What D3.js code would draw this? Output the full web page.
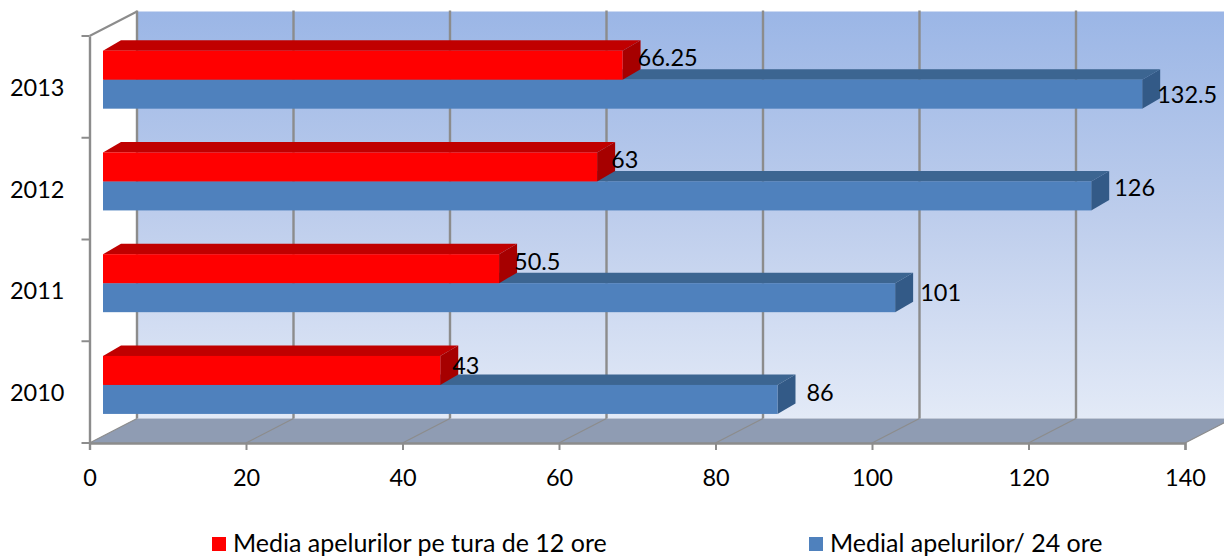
<!DOCTYPE html>
<html><head><meta charset="utf-8">
<script src="https://cdn.jsdelivr.net/npm/d3@7"></script>
<style>
html,body{margin:0;padding:0;background:#fff;overflow:hidden}
text{font-family:Lato,"Open Sans",sans-serif;fill:#000}
</style></head><body>
<svg id="c" width="1224" height="557"></svg>
<script>
const categories = ["2010","2011","2012","2013"];
const seriesNames = ["Media apelurilor pe tura de 12 ore","Medial apelurilor/ 24 ore"];
const seriesRed = [43,50.5,63,66.25];
const seriesBlue = [86,101,126,132.5];
const xTicks = [0,20,40,60,80,100,120,140];
const redColors = {front:"#ff0000",top:"#c00000",side:"#a60000"};
const blueColors = {front:"#4f81bd",top:"#3c6591",side:"#335a87"};
const redNudge = {"2010":[-2,9],"2011":[1,7],"2012":[0,7],"2013":[1,6]};
const blueNudge = {"2010":[14,-7],"2011":[10,-6],"2012":[8,-9],"2013":[0,0]};

const W=1224,H=557, grey="#8c8c8c", fs=23.5, legendFs=25;
const svg=d3.select("#c");
const x=d3.scaleLinear().domain([0,140]).range([89.5,1185]);
const xBar=d3.scaleLinear().domain([0,140]).range([103,1201]);
const y=d3.scaleBand().domain(categories).range([443,36]);
const inner=d3.scaleBand().domain(["red","blue"]).range([-36.2,21.8]);
const wall={dx:47.5,dy:-24.5}, bar={dx:18,dy:-10.5};

const defs=svg.append("defs");
const g=defs.append("linearGradient").attr("id","wallG").attr("x1",0).attr("x2",0).attr("y1",0).attr("y2",1);
g.append("stop").attr("offset",0).attr("stop-color","#9bb6e6");
g.append("stop").attr("offset",0.5).attr("stop-color","#bdcdec");
g.append("stop").attr("offset",1).attr("stop-color","#e3eaf7");

const poly=(a)=>a.map(p=>p.join(",")).join(" ");
svg.append("rect").attr("x",x(0)+wall.dx).attr("y",y.range()[1]+wall.dy)
  .attr("width",W-x(0)-wall.dx).attr("height",y.range()[0]-y.range()[1]).attr("fill","url(#wallG)");
svg.append("polygon").attr("fill","#8f9cb3").attr("points",poly([
  [x(0),443],[x(140),443],[x(140)+wall.dx,443+wall.dy],[x(0)+wall.dx,443+wall.dy]]));

const grid=svg.append("g").attr("fill","none").attr("stroke",grey);
xTicks.forEach(t=>{
  grid.append("line").attr("x1",x(t)+wall.dx).attr("x2",x(t)+wall.dx)
    .attr("y1",36+wall.dy-1).attr("y2",443+wall.dy).attr("stroke-width",2.4);
  grid.append("line").attr("x1",x(t)).attr("y1",443).attr("x2",x(t)+wall.dx).attr("y2",443+wall.dy).attr("stroke-width",1.2);
});
grid.append("line").attr("x1",x(0)).attr("y1",36).attr("x2",x(0)+wall.dx).attr("y2",36+wall.dy).attr("stroke-width",2);

const ax=svg.append("g").attr("transform","translate(0,443)")
  .call(d3.axisBottom(x).tickValues(xTicks).tickSize(7).tickPadding(19).tickFormat(d3.format("d")));
ax.select(".domain").attr("stroke",grey).attr("stroke-width",2.4);
ax.selectAll("line").attr("stroke",grey).attr("stroke-width",2);
ax.selectAll("text").style("font-size",fs+"px").attr("font-family",null).attr("fill","#000");

const ay=svg.append("g").attr("transform",`translate(${x(0)},1.5)`)
  .call(d3.axisLeft(y).tickSize(0).tickPadding(25));
ay.select(".domain").attr("transform","translate(0,-1.5)").attr("stroke",grey).attr("stroke-width",2.4);
ay.selectAll("text").style("font-size",fs+"px").attr("font-family",null).attr("fill","#000");
const yEdges=[...categories.map(c=>y(c)+y.bandwidth()),36];
svg.append("g").selectAll("line").data(yEdges).join("line")
  .attr("x1",x(0)-8).attr("x2",x(0)).attr("y1",d=>d).attr("y2",d=>d)
  .attr("stroke",grey).attr("stroke-width",2);

function bar3d(parent,v,cat,key,col){
  const x0=xBar(0),x1=xBar(v),y0=y(cat)+y.bandwidth()/2+inner(key),h=inner.bandwidth();
  const b=parent.append("g");
  b.append("polygon").attr("fill",col.top).attr("points",poly([
    [x0,y0],[x1,y0],[x1+bar.dx,y0+bar.dy],[x0+bar.dx,y0+bar.dy]]));
  b.append("polygon").attr("fill",col.side).attr("points",poly([
    [x1,y0],[x1+bar.dx,y0+bar.dy],[x1+bar.dx,y0+bar.dy+h],[x1,y0+h]]));
  b.append("rect").attr("x",x0).attr("y",y0).attr("width",x1-x0).attr("height",h).attr("fill",col.front);
}
const bars=svg.append("g");
categories.slice().reverse().forEach(cat=>{
  const i=categories.indexOf(cat);
  bar3d(bars,seriesBlue[i],cat,"blue",blueColors);
  bar3d(bars,seriesRed[i],cat,"red",redColors);
});

const labels=svg.append("g").style("font-size",fs+"px");
categories.forEach((cat,i)=>{
  const c=y(cat)+y.bandwidth()/2;
  labels.append("text").text(seriesRed[i]).attr("dominant-baseline","central")
    .attr("x",xBar(seriesRed[i])+14+redNudge[cat][0])
    .attr("y",c+inner("red")+redNudge[cat][1]);
  labels.append("text").text(seriesBlue[i]).attr("dominant-baseline","central")
    .attr("x",xBar(seriesBlue[i])+15+blueNudge[cat][0])
    .attr("y",c+inner("blue")+inner.bandwidth()/2+blueNudge[cat][1]);
});

const legendX=[212,809], legendColors=[redColors.front,blueColors.front];
const lg=svg.append("g");
seriesNames.forEach((n,i)=>{
  lg.append("rect").attr("x",legendX[i]).attr("y",537).attr("width",14).attr("height",14).attr("fill",legendColors[i]);
  lg.append("text").text(n).attr("x",legendX[i]+21).attr("y",552).style("font-size",legendFs+"px");
});
</script></body></html>
